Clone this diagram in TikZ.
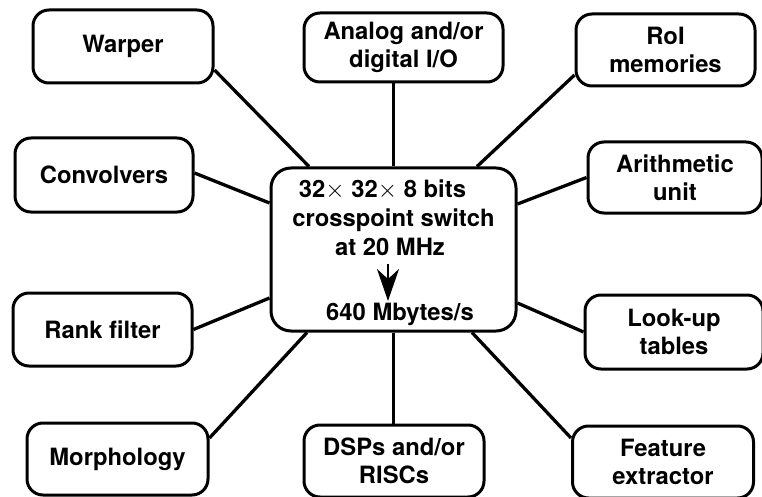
\documentclass[tikz,border=0pt]{standalone}
\usepackage{fontspec}
\setmainfont{TeX Gyre Heros}
\usetikzlibrary{arrows.meta}
\begin{document}
\begin{tikzpicture}[x=1pt,y=-1pt,
  txt/.style={font=\bfseries\fontsize{23.8}{28}\selectfont},
  unit/.style={txt, draw, line width=3pt, rounded corners=16pt, align=center,
               inner sep=0pt},
  hub/.style={draw, line width=3pt, rounded corners=20pt, inner sep=0pt,
              minimum width=245pt, minimum height=163pt},
  link/.style={line width=3.3pt},
  flow/.style={line width=2.2pt, -{Stealth[length=32pt 0,width=22pt 0,inset=10pt 0]}}]
\useasboundingbox (0,0) rectangle (762,497);
\fill[white] (0,0) rectangle (762,497);

% central crosspoint switch
\node[hub] (switch) at (393.5,249.5) {};
\node[txt, anchor=base] (l1) at (382.5,197) {32$\times$ 32$\times$ 8 bits};
\node[txt, anchor=base] (l2) at (393.5,226) {crosspoint switch};
\node[txt, anchor=base] (l3) at (390,255) {at 20 MHz};
\node[txt, anchor=base] (l4) at (400,320) {640 Mbytes/s};
\coordinate (rateTop) at (388,264);
\coordinate (rateTip) at (388,301);
\draw[flow] (rateTop) -- (rateTip);

% processing units around the switch
\node[unit, minimum width=180pt, minimum height=73pt] (warper)  at (123,46.5)   {Warper};
\node[unit, minimum width=199pt, minimum height=69pt] (analog)  at (403.5,47.5) {Analog and/or\\digital I/O};
\node[unit, minimum width=179pt, minimum height=72pt] (roi)     at (665.5,50)   {RoI\\memories};
\node[unit, minimum width=178pt, minimum height=74pt] (conv)    at (104,175)    {Convolvers};
\node[unit, minimum width=174pt, minimum height=71pt] (arith)   at (675,177.5)  {Arithmetic\\unit};
\node[unit, minimum width=179pt, minimum height=73pt] (rank)    at (102.5,329.5){Rank filter};
\node[unit, minimum width=178pt, minimum height=74pt] (lookup)  at (674,332)    {Look-up\\tables};
\node[unit, minimum width=181pt, minimum height=72pt] (morph)   at (117.5,459)  {Morphology};
\node[unit, minimum width=180pt, minimum height=72pt] (dsp)     at (394,461)    {DSPs and/or\\RISCs};
\node[unit, minimum width=181pt, minimum height=72pt] (feature) at (663,462)    {Feature\\extractor};

% connections to the switch
\draw[link] ([yshift=-23.5pt]warper.east) -- ([xshift=-84.5pt]switch.north);
\draw[link] (switch.north) -- (switch.north |- analog.south);
\draw[link] ([yshift=-25pt]roi.west) -- ([xshift=83.5pt]switch.north);
\draw[link] ([yshift=2pt]conv.east) -- ([yshift=46.5pt]switch.west);
\draw[link] (arith.west) -- ([yshift=45.5pt]switch.east);
\draw[link] (rank.east) -- ([yshift=-48.5pt]switch.west);
\draw[link] (lookup.west) -- ([yshift=-53.5pt]switch.east);
\draw[link] ([yshift=21pt]morph.east) -- ([xshift=-86.5pt]switch.south);
\draw[link] (switch.south) -- (switch.south |- dsp.north);
\draw[link] ([yshift=24pt]feature.west) -- ([xshift=78.5pt]switch.south);
\end{tikzpicture}
\end{document}
